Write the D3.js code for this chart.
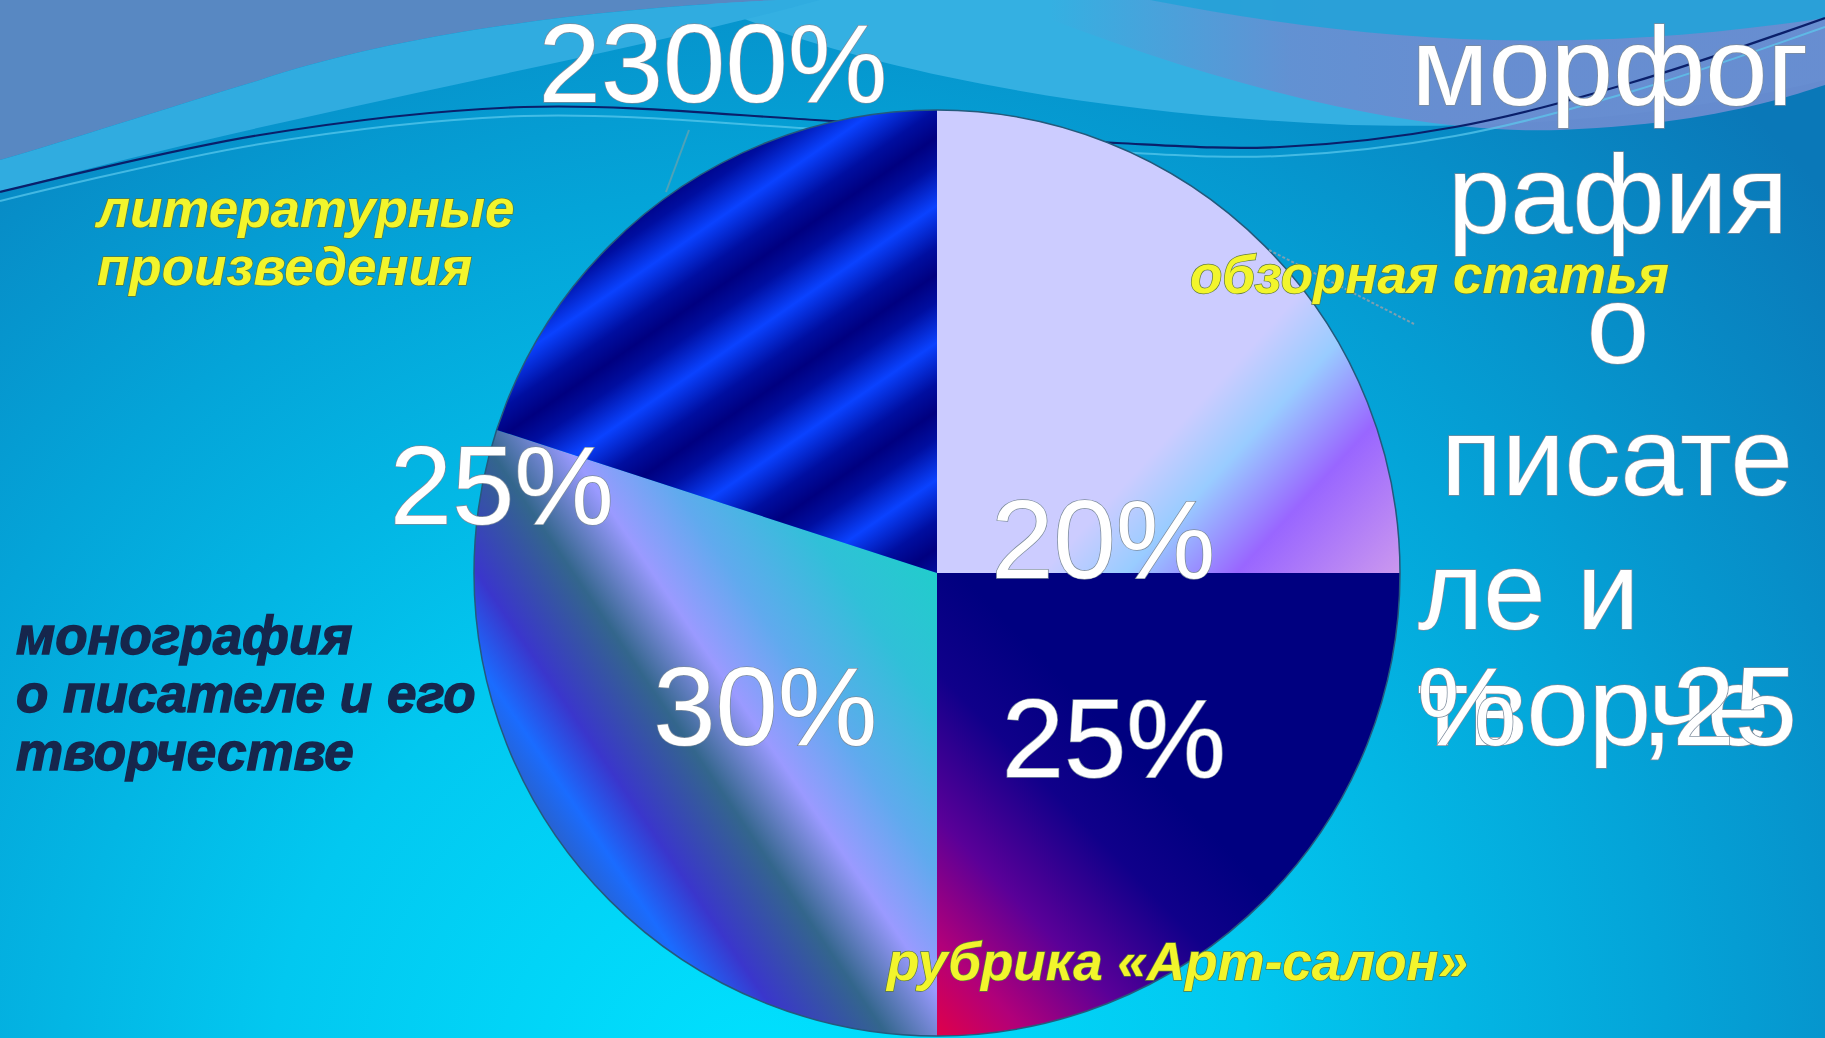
<!DOCTYPE html>
<html>
<head>
<meta charset="utf-8">
<script src="https://cdn.jsdelivr.net/npm/d3@7"></script>
<style>
html, body { margin: 0; padding: 0; overflow: hidden; background: #06a6d8; }
svg { display: block; }
</style>
</head>
<body>
<script>
// chart data
const categories = ["обзорная статья", "рубрика «Арт-салон»", "монография о писателе и его творчестве", "литературные произведения"]
const values = [25, 25, 30, 20]
const valueLabels = ["20%", "25%", "30%", "25%"]
const strayLabel = "2300%"
const categoryLines = [["обзорная статья"], ["рубрика «Арт-салон»"], ["монография", "о писателе и его", "творчестве"], ["литературные", "произведения"]]
const wrappedLines = ["морфог", "рафия", "о", "писате", "ле и"]
const overlapLine = ["творче", "%", ",25"]

const width = 1825, height = 1038
const cx = 937, cy = 573, R = 463
const FONT = "'Liberation Sans', Arial, sans-serif"

const svg = d3.select("body").append("svg")
    .attr("width", width)
    .attr("height", height)
const defs = svg.append("defs")

// coordinates given in page space, ox/oy shift them into the element's space
function linGrad(id, x1, y1, x2, y2, stops, spread, ox = 0, oy = 0){
    const g = defs.append("linearGradient")
        .attr("id", id)
        .attr("gradientUnits", "userSpaceOnUse")
        .attr("x1", x1 - ox).attr("y1", y1 - oy).attr("x2", x2 - ox).attr("y2", y2 - oy)
    if (spread) g.attr("spreadMethod", spread)
    stops.forEach(s => g.append("stop").attr("offset", s[0]).attr("stop-color", s[1]).attr("stop-opacity", s[2] == null ? 1 : s[2]))
}

// background
const bg = defs.append("radialGradient")
    .attr("id", "bg")
    .attr("gradientUnits", "userSpaceOnUse")
    .attr("cx", 760).attr("cy", 1100).attr("r", 1400)
;[[0, "#00e2ff"], [0.35, "#02c8f0"], [0.65, "#04a4d8"], [1, "#0a78b8"]]
    .forEach(s => bg.append("stop").attr("offset", s[0]).attr("stop-color", s[1]))

linGrad("purpleWave", 1050, 0, 1450, 0, [[0, "#6a8cd0", 0], [0.6, "#6a8cd0", 0.85], [1, "#6a8cd0", 0.95]])

// slice fills (pie group is translated to the centre)
linGrad("g0", 1100, 300, 1400, 576, [[0, "#ccccff"], [0.35, "#ccccff"], [0.5, "#99ccff"], [0.7, "#9966ff"], [1, "#cc99ee"]], null, cx, cy)
linGrad("g1", 937, 1036, 1180, 800, [[0, "#e0004a"], [0.2, "#b0007a"], [0.45, "#5a0098"], [0.75, "#10008a"], [1, "#000080"]], null, cx, cy)
linGrad("g2", 548, 837, 937, 573, [[0, "#2a60c8"], [0.085, "#1a6cff"], [0.19, "#3a36cc"], [0.36, "#33668c"], [0.5, "#9a9aff"], [0.64, "#60aaee"], [0.83, "#30c0d8"], [1, "#22cccc"]], null, cx, cy)
linGrad("g3", 700, 300, 764, 393, [[0, "#000080"], [0.2, "#000ea0"], [0.5, "#0a42ff"], [0.8, "#000ea0"], [1, "#000080"]], "repeat", cx, cy)
const sliceFills = ["url(#g0)", "url(#g1)", "url(#g2)", "url(#g3)"]

svg.append("rect").attr("width", width).attr("height", height).attr("fill", "url(#bg)")

// decorative waves at the top
const wave = svg.append("g")
wave.append("path")
    .attr("d", "M700,0 C850,70 1100,115 1350,125 C1550,130 1700,110 1825,80 V0 Z")
    .attr("fill", "#34b0e2")
wave.append("path")
    .attr("d", "M1000,0 C1200,80 1400,135 1560,130 C1700,125 1780,100 1825,85 V0 Z")
    .attr("fill", "url(#purpleWave)")
wave.append("path")
    .attr("d", "M1150,0 C1380,45 1580,55 1825,18 V0 Z")
    .attr("fill", "#24a2d8")
    .attr("opacity", 0.9)
wave.append("path")
    .attr("d", "M0,0 H780 C560,10 380,40 260,80 C160,110 70,140 0,160 Z")
    .attr("fill", "#5888c2")
wave.append("path")
    .attr("d", "M0,160 C70,140 160,110 260,80 C380,40 560,10 780,0 H820 C600,60 300,110 0,192 Z")
    .attr("fill", "#30ace0")

const linePts = [[0, 192], [260, 135], [524, 107], [815, 120], [1117, 143], [1280, 147], [1455, 127], [1630, 83], [1825, 18]]
const curve = d3.line().curve(d3.curveCatmullRom)
wave.append("path")
    .attr("d", curve(linePts.map(p => [p[0], p[1] + 9])))
    .attr("fill", "none").attr("stroke", "#5ccbee").attr("stroke-width", 2).attr("opacity", 0.7)
wave.append("path")
    .attr("d", curve(linePts))
    .attr("fill", "none").attr("stroke", "#0a1f6a").attr("stroke-width", 2.2)

// pie
const pie = d3.pie().sort(null).startAngle(0).endAngle(2 * Math.PI)
const arc = d3.arc().innerRadius(0).outerRadius(R)
const arcs = pie(values)

const gPie = svg.append("g").attr("transform", `translate(${cx},${cy})`)
gPie.selectAll("path")
    .data(arcs)
    .join("path")
    .attr("d", arc)
    .attr("fill", (d, i) => sliceFills[i])
gPie.append("circle")
    .attr("r", R)
    .attr("fill", "none")
    .attr("stroke", "#245a7c")
    .attr("stroke-width", 1.5)

// leader lines
svg.append("line").attr("x1", 689).attr("y1", 130).attr("x2", 666).attr("y2", 192)
    .attr("stroke", "#4fa2b8").attr("stroke-width", 2)
svg.append("line").attr("x1", 1269).attr("y1", 250).attr("x2", 1414).attr("y2", 324)
    .attr("stroke", "#7f9fb0").attr("stroke-width", 2).attr("stroke-dasharray", "3,2")

// value labels, offset from the pie centre in radius units
const labelOffsets = [[0.359, 0.011], [0.382, 0.441], [-0.371, 0.371], [-0.94, -0.106]]
const strayOffset = [-0.484, -1.017]

function whiteText(sel){
    return sel.attr("font-family", FONT)
        .attr("fill", "#ffffff")
        .attr("stroke", "#7d8c9c")
        .attr("stroke-width", 1.5)
        .attr("paint-order", "stroke")
}

svg.append("g").selectAll("text")
    .data(arcs)
    .join("text")
    .attr("x", (d, i) => cx + labelOffsets[i][0] * R)
    .attr("y", (d, i) => cy + labelOffsets[i][1] * R)
    .attr("text-anchor", "middle")
    .attr("font-size", 112)
    .text((d, i) => valueLabels[i])
    .call(whiteText)

svg.append("text")
    .attr("x", cx + strayOffset[0] * R)
    .attr("y", cy + strayOffset[1] * R)
    .attr("text-anchor", "middle")
    .attr("font-size", 112)
    .text(strayLabel)
    .call(whiteText)

// category labels
const catPos = [
    {x: 1190, y: 293, lh: 58, fill: "#f2f52c", stroke: "#5f7a3a"},
    {x: 887, y: 980, lh: 58, fill: "#f2f52c", stroke: "#5f7a3a"},
    {x: 16, y: 654, lh: 58, fill: "#16264c", stroke: "#16264c"},
    {x: 97, y: 227, lh: 58, fill: "#f2f52c", stroke: "#5f7a3a"}
]
categoryLines.forEach((lines, i) => {
    const p = catPos[i]
    const t = svg.append("text")
        .attr("font-family", FONT)
        .attr("font-weight", "bold")
        .attr("font-style", "italic")
        .attr("font-size", 53)
        .attr("fill", p.fill)
        .attr("stroke", p.stroke)
        .attr("stroke-width", 1.4)
        .attr("paint-order", "stroke")
    lines.forEach((ln, j) => {
        t.append("tspan").attr("x", p.x).attr("y", p.y + j * p.lh).text(ln)
    })
})

// broken wrapped data label on the right
const wrapPos = [[1610, 105, "middle"], [1618, 233, "middle"], [1618, 363, "middle"], [1617, 495, "middle"], [1418, 629, "start"]]
svg.append("g").selectAll("text")
    .data(wrappedLines)
    .join("text")
    .attr("x", (d, i) => wrapPos[i][0])
    .attr("y", (d, i) => wrapPos[i][1])
    .attr("text-anchor", (d, i) => wrapPos[i][2])
    .attr("font-size", 112)
    .text(d => d)
    .call(whiteText)

const overlapPos = [[1417, "start"], [1417, "start"], [1797, "end"]]
svg.append("g").selectAll("text")
    .data(overlapLine)
    .join("text")
    .attr("x", (d, i) => overlapPos[i][0])
    .attr("y", 745)
    .attr("text-anchor", (d, i) => overlapPos[i][1])
    .attr("font-size", 112)
    .text(d => d)
    .call(whiteText)
</script>
</body>
</html>
